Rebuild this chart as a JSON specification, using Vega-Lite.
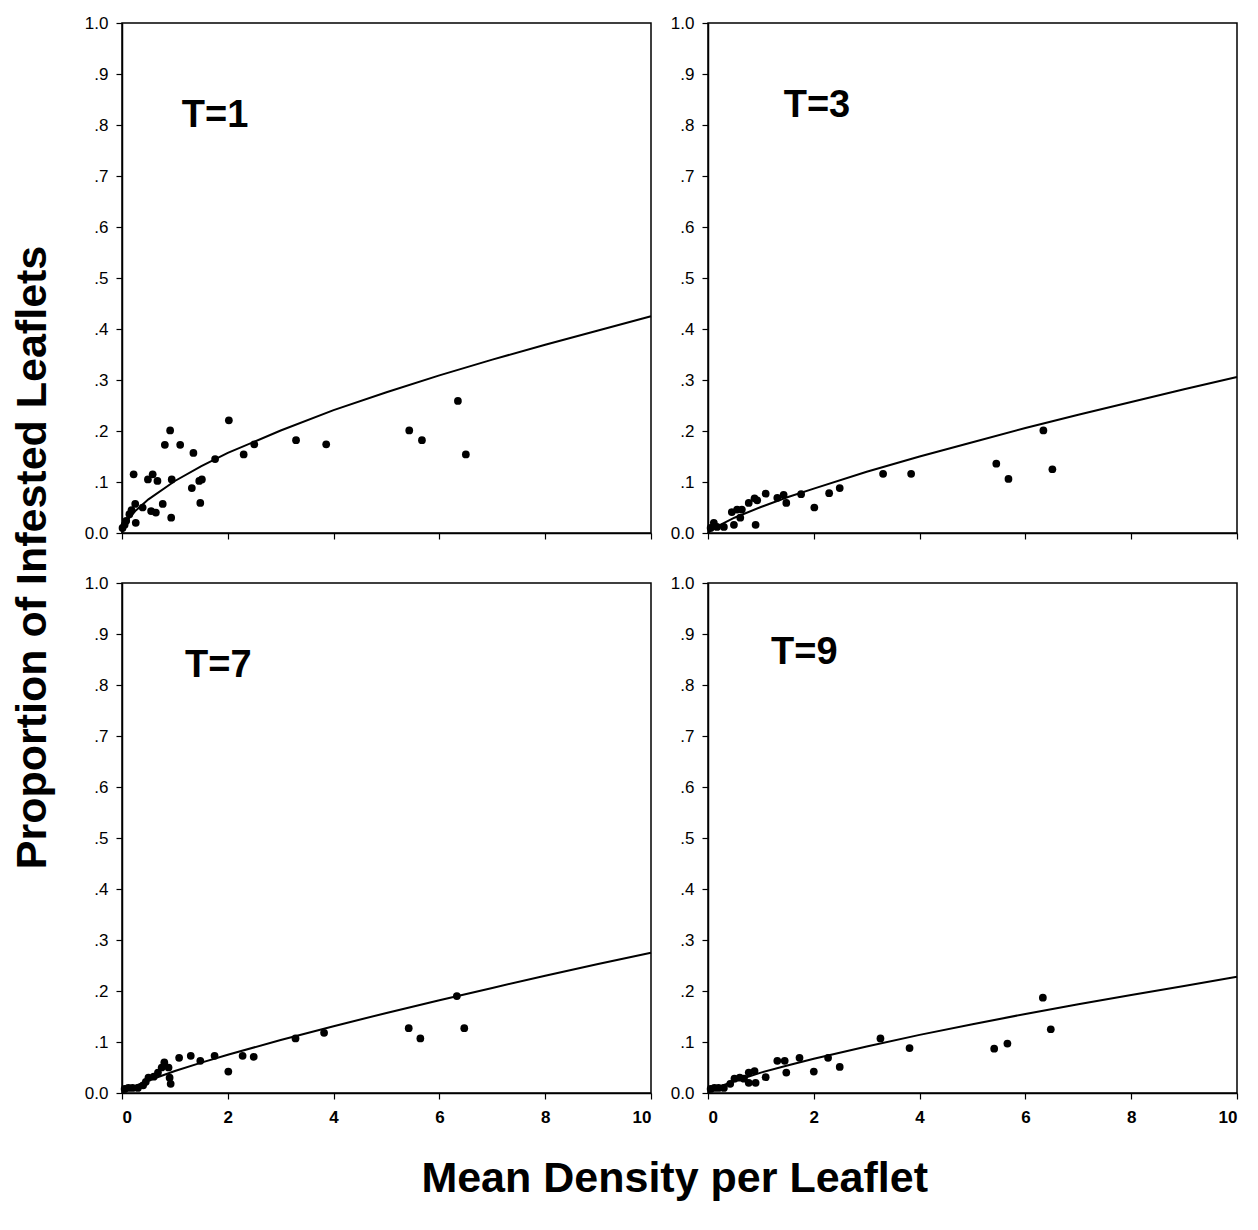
{
  "$schema": "https://vega.github.io/schema/vega-lite/v6.json",
  "background": "white",
  "padding": {"left": 11, "top": 13, "right": 5, "bottom": 5},
  "datasets": {
    "pts": [
      {"panel": "T=1", "x": 0.01, "y": 0.010}, {"panel": "T=1", "x": 0.05, "y": 0.016}, {"panel": "T=1", "x": 0.08, "y": 0.024}, {"panel": "T=1", "x": 0.14, "y": 0.037}, {"panel": "T=1", "x": 0.18, "y": 0.045},
      {"panel": "T=1", "x": 0.22, "y": 0.115}, {"panel": "T=1", "x": 0.26, "y": 0.020}, {"panel": "T=1", "x": 0.25, "y": 0.057}, {"panel": "T=1", "x": 0.39, "y": 0.050}, {"panel": "T=1", "x": 0.49, "y": 0.105},
      {"panel": "T=1", "x": 0.58, "y": 0.115}, {"panel": "T=1", "x": 0.55, "y": 0.043}, {"panel": "T=1", "x": 0.64, "y": 0.040}, {"panel": "T=1", "x": 0.67, "y": 0.102}, {"panel": "T=1", "x": 0.77, "y": 0.057},
      {"panel": "T=1", "x": 0.81, "y": 0.173}, {"panel": "T=1", "x": 0.91, "y": 0.201}, {"panel": "T=1", "x": 0.94, "y": 0.105}, {"panel": "T=1", "x": 0.93, "y": 0.030}, {"panel": "T=1", "x": 1.10, "y": 0.173},
      {"panel": "T=1", "x": 1.35, "y": 0.157}, {"panel": "T=1", "x": 1.32, "y": 0.088}, {"panel": "T=1", "x": 1.46, "y": 0.102}, {"panel": "T=1", "x": 1.51, "y": 0.105}, {"panel": "T=1", "x": 1.48, "y": 0.059},
      {"panel": "T=1", "x": 1.76, "y": 0.145}, {"panel": "T=1", "x": 2.02, "y": 0.221}, {"panel": "T=1", "x": 2.30, "y": 0.154}, {"panel": "T=1", "x": 2.50, "y": 0.174}, {"panel": "T=1", "x": 3.29, "y": 0.182},
      {"panel": "T=1", "x": 3.86, "y": 0.174}, {"panel": "T=1", "x": 5.43, "y": 0.201}, {"panel": "T=1", "x": 5.67, "y": 0.182}, {"panel": "T=1", "x": 6.35, "y": 0.259}, {"panel": "T=1", "x": 6.50, "y": 0.154},

      {"panel": "T=3", "x": 0.05, "y": 0.010}, {"panel": "T=3", "x": 0.11, "y": 0.020}, {"panel": "T=3", "x": 0.17, "y": 0.012}, {"panel": "T=3", "x": 0.30, "y": 0.012}, {"panel": "T=3", "x": 0.49, "y": 0.016},
      {"panel": "T=3", "x": 0.45, "y": 0.041}, {"panel": "T=3", "x": 0.55, "y": 0.046}, {"panel": "T=3", "x": 0.61, "y": 0.030}, {"panel": "T=3", "x": 0.64, "y": 0.046}, {"panel": "T=3", "x": 0.77, "y": 0.059},
      {"panel": "T=3", "x": 0.88, "y": 0.068}, {"panel": "T=3", "x": 0.90, "y": 0.016}, {"panel": "T=3", "x": 0.93, "y": 0.064}, {"panel": "T=3", "x": 1.09, "y": 0.077}, {"panel": "T=3", "x": 1.31, "y": 0.069},
      {"panel": "T=3", "x": 1.43, "y": 0.075}, {"panel": "T=3", "x": 1.48, "y": 0.059}, {"panel": "T=3", "x": 1.76, "y": 0.076}, {"panel": "T=3", "x": 2.01, "y": 0.050}, {"panel": "T=3", "x": 2.29, "y": 0.078},
      {"panel": "T=3", "x": 2.49, "y": 0.088}, {"panel": "T=3", "x": 3.31, "y": 0.116}, {"panel": "T=3", "x": 3.84, "y": 0.116}, {"panel": "T=3", "x": 5.45, "y": 0.136}, {"panel": "T=3", "x": 5.68, "y": 0.106},
      {"panel": "T=3", "x": 6.34, "y": 0.201}, {"panel": "T=3", "x": 6.51, "y": 0.125},

      {"panel": "T=7", "x": 0.05, "y": 0.008}, {"panel": "T=7", "x": 0.12, "y": 0.010}, {"panel": "T=7", "x": 0.20, "y": 0.010}, {"panel": "T=7", "x": 0.30, "y": 0.010}, {"panel": "T=7", "x": 0.40, "y": 0.015},
      {"panel": "T=7", "x": 0.45, "y": 0.022}, {"panel": "T=7", "x": 0.50, "y": 0.030}, {"panel": "T=7", "x": 0.60, "y": 0.032}, {"panel": "T=7", "x": 0.68, "y": 0.040}, {"panel": "T=7", "x": 0.75, "y": 0.050},
      {"panel": "T=7", "x": 0.80, "y": 0.060}, {"panel": "T=7", "x": 0.88, "y": 0.050}, {"panel": "T=7", "x": 0.90, "y": 0.030}, {"panel": "T=7", "x": 0.92, "y": 0.018}, {"panel": "T=7", "x": 1.08, "y": 0.069},
      {"panel": "T=7", "x": 1.30, "y": 0.073}, {"panel": "T=7", "x": 1.48, "y": 0.063}, {"panel": "T=7", "x": 1.75, "y": 0.073}, {"panel": "T=7", "x": 2.01, "y": 0.042}, {"panel": "T=7", "x": 2.28, "y": 0.073},
      {"panel": "T=7", "x": 2.49, "y": 0.071}, {"panel": "T=7", "x": 3.28, "y": 0.107}, {"panel": "T=7", "x": 3.82, "y": 0.118}, {"panel": "T=7", "x": 5.42, "y": 0.127}, {"panel": "T=7", "x": 5.64, "y": 0.107},
      {"panel": "T=7", "x": 6.33, "y": 0.190}, {"panel": "T=7", "x": 6.47, "y": 0.127},

      {"panel": "T=9", "x": 0.05, "y": 0.008}, {"panel": "T=9", "x": 0.12, "y": 0.010}, {"panel": "T=9", "x": 0.20, "y": 0.010}, {"panel": "T=9", "x": 0.30, "y": 0.010}, {"panel": "T=9", "x": 0.42, "y": 0.018},
      {"panel": "T=9", "x": 0.50, "y": 0.028}, {"panel": "T=9", "x": 0.60, "y": 0.030}, {"panel": "T=9", "x": 0.68, "y": 0.028}, {"panel": "T=9", "x": 0.77, "y": 0.020}, {"panel": "T=9", "x": 0.77, "y": 0.040},
      {"panel": "T=9", "x": 0.88, "y": 0.043}, {"panel": "T=9", "x": 0.90, "y": 0.020}, {"panel": "T=9", "x": 1.09, "y": 0.031}, {"panel": "T=9", "x": 1.31, "y": 0.063}, {"panel": "T=9", "x": 1.45, "y": 0.063},
      {"panel": "T=9", "x": 1.48, "y": 0.040}, {"panel": "T=9", "x": 1.73, "y": 0.069}, {"panel": "T=9", "x": 2.00, "y": 0.042}, {"panel": "T=9", "x": 2.27, "y": 0.069}, {"panel": "T=9", "x": 2.49, "y": 0.051},
      {"panel": "T=9", "x": 3.26, "y": 0.107}, {"panel": "T=9", "x": 3.81, "y": 0.088}, {"panel": "T=9", "x": 5.41, "y": 0.087}, {"panel": "T=9", "x": 5.66, "y": 0.097}, {"panel": "T=9", "x": 6.33, "y": 0.187},
      {"panel": "T=9", "x": 6.48, "y": 0.125}
    ],
    "curve": [
      {"panel": "T=1", "x": 0, "y": 0}, {"panel": "T=1", "x": 0.1, "y": 0.025}, {"panel": "T=1", "x": 0.25, "y": 0.043}, {"panel": "T=1", "x": 0.5, "y": 0.066}, {"panel": "T=1", "x": 1, "y": 0.102},
      {"panel": "T=1", "x": 1.5, "y": 0.131}, {"panel": "T=1", "x": 2, "y": 0.157}, {"panel": "T=1", "x": 3, "y": 0.201}, {"panel": "T=1", "x": 4, "y": 0.241}, {"panel": "T=1", "x": 5, "y": 0.276},
      {"panel": "T=1", "x": 6, "y": 0.309}, {"panel": "T=1", "x": 7, "y": 0.340}, {"panel": "T=1", "x": 8, "y": 0.369}, {"panel": "T=1", "x": 9, "y": 0.397}, {"panel": "T=1", "x": 10, "y": 0.425},

      {"panel": "T=3", "x": 0, "y": 0}, {"panel": "T=3", "x": 0.1, "y": 0.0085}, {"panel": "T=3", "x": 0.25, "y": 0.017}, {"panel": "T=3", "x": 0.5, "y": 0.030}, {"panel": "T=3", "x": 1, "y": 0.051},
      {"panel": "T=3", "x": 1.5, "y": 0.070}, {"panel": "T=3", "x": 2, "y": 0.087}, {"panel": "T=3", "x": 3, "y": 0.120}, {"panel": "T=3", "x": 4, "y": 0.150}, {"panel": "T=3", "x": 5, "y": 0.178},
      {"panel": "T=3", "x": 6, "y": 0.206}, {"panel": "T=3", "x": 7, "y": 0.232}, {"panel": "T=3", "x": 8, "y": 0.257}, {"panel": "T=3", "x": 9, "y": 0.282}, {"panel": "T=3", "x": 10, "y": 0.306},

      {"panel": "T=7", "x": 0, "y": 0}, {"panel": "T=7", "x": 0.1, "y": 0.007}, {"panel": "T=7", "x": 0.25, "y": 0.014}, {"panel": "T=7", "x": 0.5, "y": 0.0245}, {"panel": "T=7", "x": 1, "y": 0.043},
      {"panel": "T=7", "x": 1.5, "y": 0.0595}, {"panel": "T=7", "x": 2, "y": 0.075}, {"panel": "T=7", "x": 3, "y": 0.104}, {"panel": "T=7", "x": 4, "y": 0.131}, {"panel": "T=7", "x": 5, "y": 0.157},
      {"panel": "T=7", "x": 6, "y": 0.182}, {"panel": "T=7", "x": 7, "y": 0.206}, {"panel": "T=7", "x": 8, "y": 0.230}, {"panel": "T=7", "x": 9, "y": 0.253}, {"panel": "T=7", "x": 10, "y": 0.275},

      {"panel": "T=9", "x": 0, "y": 0}, {"panel": "T=9", "x": 0.1, "y": 0.007}, {"panel": "T=9", "x": 0.25, "y": 0.014}, {"panel": "T=9", "x": 0.5, "y": 0.023}, {"panel": "T=9", "x": 1, "y": 0.040},
      {"panel": "T=9", "x": 1.5, "y": 0.054}, {"panel": "T=9", "x": 2, "y": 0.067}, {"panel": "T=9", "x": 3, "y": 0.091}, {"panel": "T=9", "x": 4, "y": 0.114}, {"panel": "T=9", "x": 5, "y": 0.135},
      {"panel": "T=9", "x": 6, "y": 0.155}, {"panel": "T=9", "x": 7, "y": 0.174}, {"panel": "T=9", "x": 8, "y": 0.192}, {"panel": "T=9", "x": 9, "y": 0.210}, {"panel": "T=9", "x": 10, "y": 0.228}
    ]
  },
  "title": {"text": "Mean Density per Leaflet", "orient": "bottom", "anchor": "middle", "fontSize": 43, "font": "Liberation Sans", "fontWeight": "bold", "color": "black", "offset": 32, "dx": 48},
  "vconcat": [
    {
      "title": {"text": "Proportion of Infested Leaflets", "orient": "left", "anchor": "middle", "fontSize": 43, "font": "Liberation Sans", "fontWeight": "bold", "color": "black", "offset": 29, "dx": 12},
      "columns": 2,
      "spacing": {"row": 50, "column": 57},
      "bounds": "flush",
      "concat": [
        {
          "width": 529, "height": 510,
          "layer": [
            {"data": {"name": "curve"}, "transform": [{"filter": "datum.panel == 'T=1'"}], "mark": {"type": "line", "color": "black", "strokeWidth": 2},
             "encoding": {"x": {"field": "x", "type": "quantitative", "scale": {"domain": [0, 10]}, "axis": {"title": null, "values": [0, 2, 4, 6, 8, 10], "labels": false}},
                          "y": {"field": "y", "type": "quantitative", "scale": {"domain": [0, 1]}, "axis": {"title": null, "values": [0, 0.1, 0.2, 0.3, 0.4, 0.5, 0.6, 0.7, 0.8, 0.9, 1], "labelExpr": "datum.value == 0 ? '0.0' : datum.value == 1 ? '1.0' : '.' + round(datum.value * 10)"}}}},
            {"data": {"name": "pts"}, "transform": [{"filter": "datum.panel == 'T=1'"}], "mark": {"type": "circle", "color": "black", "opacity": 1, "size": 60},
             "encoding": {"x": {"field": "x", "type": "quantitative"}, "y": {"field": "y", "type": "quantitative"}}},
            {"data": {"values": [{"label": "T=1"}]}, "mark": {"type": "text", "font": "Liberation Sans", "fontWeight": "bold", "fontSize": 38, "color": "black"},
             "encoding": {"x": {"datum": 1.76}, "y": {"datum": 0.818}, "text": {"field": "label"}}}
          ]
        },
        {
          "width": 529, "height": 510,
          "layer": [
            {"data": {"name": "curve"}, "transform": [{"filter": "datum.panel == 'T=3'"}], "mark": {"type": "line", "color": "black", "strokeWidth": 2},
             "encoding": {"x": {"field": "x", "type": "quantitative", "scale": {"domain": [0, 10]}, "axis": {"title": null, "values": [0, 2, 4, 6, 8, 10], "labels": false}},
                          "y": {"field": "y", "type": "quantitative", "scale": {"domain": [0, 1]}, "axis": {"title": null, "values": [0, 0.1, 0.2, 0.3, 0.4, 0.5, 0.6, 0.7, 0.8, 0.9, 1], "labelExpr": "datum.value == 0 ? '0.0' : datum.value == 1 ? '1.0' : '.' + round(datum.value * 10)"}}}},
            {"data": {"name": "pts"}, "transform": [{"filter": "datum.panel == 'T=3'"}], "mark": {"type": "circle", "color": "black", "opacity": 1, "size": 60},
             "encoding": {"x": {"field": "x", "type": "quantitative"}, "y": {"field": "y", "type": "quantitative"}}},
            {"data": {"values": [{"label": "T=3"}]}, "mark": {"type": "text", "font": "Liberation Sans", "fontWeight": "bold", "fontSize": 38, "color": "black"},
             "encoding": {"x": {"datum": 2.06}, "y": {"datum": 0.837}, "text": {"field": "label"}}}
          ]
        },
        {
          "width": 529, "height": 510,
          "layer": [
            {"data": {"name": "curve"}, "transform": [{"filter": "datum.panel == 'T=7'"}], "mark": {"type": "line", "color": "black", "strokeWidth": 2},
             "encoding": {"x": {"field": "x", "type": "quantitative", "scale": {"domain": [0, 10]}, "axis": {"title": null, "values": [0, 2, 4, 6, 8, 10], "labelFontWeight": "bold"}},
                          "y": {"field": "y", "type": "quantitative", "scale": {"domain": [0, 1]}, "axis": {"title": null, "values": [0, 0.1, 0.2, 0.3, 0.4, 0.5, 0.6, 0.7, 0.8, 0.9, 1], "labelExpr": "datum.value == 0 ? '0.0' : datum.value == 1 ? '1.0' : '.' + round(datum.value * 10)"}}}},
            {"data": {"name": "pts"}, "transform": [{"filter": "datum.panel == 'T=7'"}], "mark": {"type": "circle", "color": "black", "opacity": 1, "size": 60},
             "encoding": {"x": {"field": "x", "type": "quantitative"}, "y": {"field": "y", "type": "quantitative"}}},
            {"data": {"values": [{"label": "T=7"}]}, "mark": {"type": "text", "font": "Liberation Sans", "fontWeight": "bold", "fontSize": 38, "color": "black"},
             "encoding": {"x": {"datum": 1.82}, "y": {"datum": 0.837}, "text": {"field": "label"}}}
          ]
        },
        {
          "width": 529, "height": 510,
          "layer": [
            {"data": {"name": "curve"}, "transform": [{"filter": "datum.panel == 'T=9'"}], "mark": {"type": "line", "color": "black", "strokeWidth": 2},
             "encoding": {"x": {"field": "x", "type": "quantitative", "scale": {"domain": [0, 10]}, "axis": {"title": null, "values": [0, 2, 4, 6, 8, 10], "labelFontWeight": "bold"}},
                          "y": {"field": "y", "type": "quantitative", "scale": {"domain": [0, 1]}, "axis": {"title": null, "values": [0, 0.1, 0.2, 0.3, 0.4, 0.5, 0.6, 0.7, 0.8, 0.9, 1], "labelExpr": "datum.value == 0 ? '0.0' : datum.value == 1 ? '1.0' : '.' + round(datum.value * 10)"}}}},
            {"data": {"name": "pts"}, "transform": [{"filter": "datum.panel == 'T=9'"}], "mark": {"type": "circle", "color": "black", "opacity": 1, "size": 60},
             "encoding": {"x": {"field": "x", "type": "quantitative"}, "y": {"field": "y", "type": "quantitative"}}},
            {"data": {"values": [{"label": "T=9"}]}, "mark": {"type": "text", "font": "Liberation Sans", "fontWeight": "bold", "fontSize": 38, "color": "black"},
             "encoding": {"x": {"datum": 1.82}, "y": {"datum": 0.863}, "text": {"field": "label"}}}
          ]
        }
      ]
    }
  ],
  "config": {
    "view": {"stroke": "black", "strokeWidth": 1.5},
    "axis": {"grid": false, "domainColor": "black", "domainWidth": 1.5, "tickColor": "black", "tickWidth": 1.2, "tickSize": 6, "labelColor": "black", "labelFont": "Liberation Sans", "labelFontSize": 17},
    "axisX": {"labelPadding": 10},
    "axisY": {"labelPadding": 8}
  }
}
